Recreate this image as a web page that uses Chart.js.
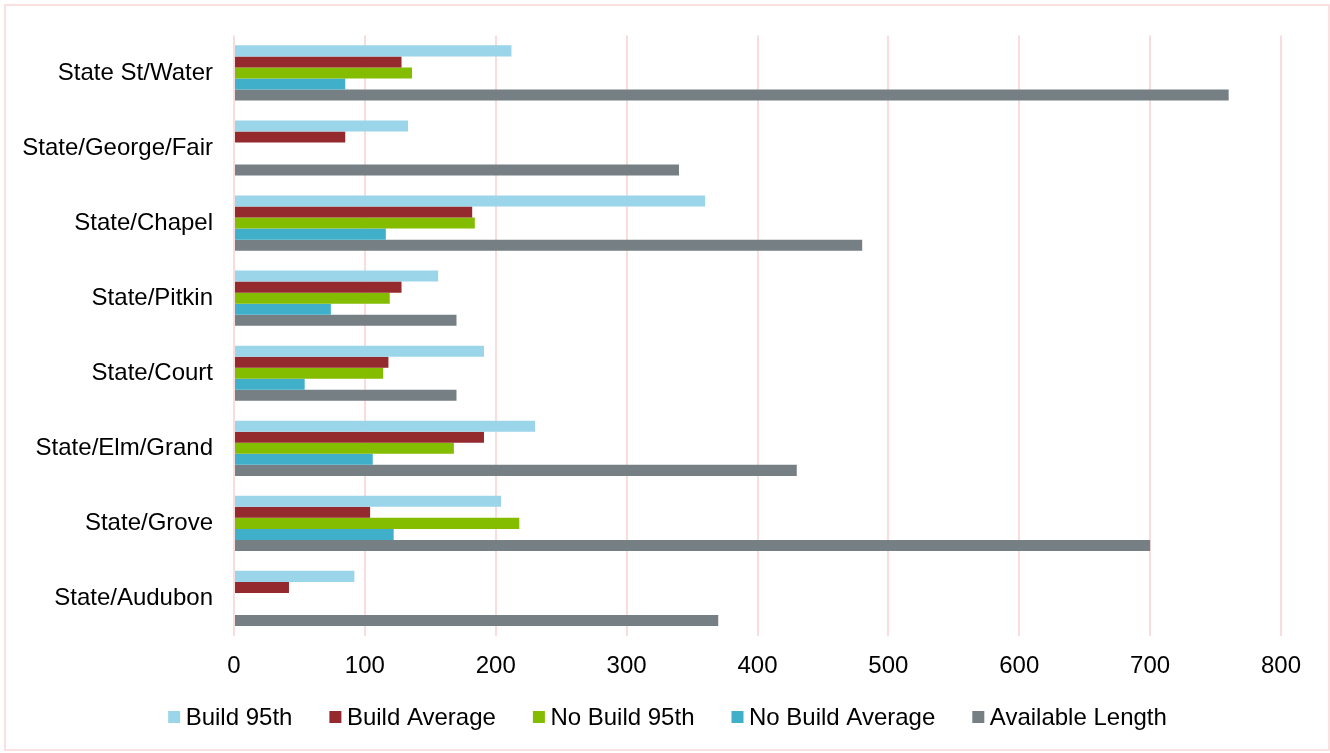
<!DOCTYPE html>
<html>
<head>
<meta charset="utf-8">
<title>Queue Length by Intersection</title>
<script src="https://cdn.jsdelivr.net/npm/chart.js@4.4.1/dist/chart.umd.min.js"></script>
<style>
  html, body { margin: 0; padding: 0; background: #ffffff; }
  #wrap { width: 1330px; height: 753px; }
</style>
</head>
<body>
<div id="wrap"><canvas id="chart" width="1330" height="753"></canvas></div>
<script>
// Intersections, top to bottom
const categories = [
  'State St/Water',
  'State/George/Fair',
  'State/Chapel',
  'State/Pitkin',
  'State/Court',
  'State/Elm/Grand',
  'State/Grove',
  'State/Audubon'
];

// Queue lengths per intersection (null = not reported)
const build95th       = [212, 133, 360, 156, 191, 230, 204, 92];
const buildAverage    = [128,  85, 182, 128, 118, 191, 104, 42];
const noBuild95th     = [136, null, 184, 119, 114, 168, 218, null];
const noBuildAverage  = [ 85, null, 116,  74,  54, 106, 122, null];
const availableLength = [760, 340, 480, 170, 170, 430, 700, 370];

// Value axis ticks
const xTicks = [0, 100, 200, 300, 400, 500, 600, 700, 800];

const seriesNames  = ['Build 95th', 'Build Average', 'No Build 95th', 'No Build Average', 'Available Length'];
const seriesColors = ['#9BD5E9', '#94292E', '#84BC00', '#3FAFCA', '#757F84'];
const seriesValues = [build95th, buildAverage, noBuild95th, noBuildAverage, availableLength];

const FONT_FAMILY = '"Liberation Sans", Arial, Helvetica, sans-serif';
const FONT_SIZE = 24;
const LEGEND_FONT_SIZE = 24;

// Light frame around the whole chart
const framePlugin = {
  id: 'frame',
  beforeDraw(chart) {
    const ctx = chart.ctx;
    ctx.save();
    ctx.fillStyle = '#ffffff';
    ctx.fillRect(0, 0, chart.width, chart.height);
    ctx.strokeStyle = '#F9D6D6';
    ctx.lineWidth = 1.5;
    ctx.strokeRect(5, 5, 1324, 745);
    ctx.restore();
  }
};

// Legend row drawn under the value axis with small square keys
const bottomLegend = {
  id: 'bottomLegend',
  afterDraw(chart) {
    const ctx = chart.ctx;
    const box = 12, gapText = 5.5, gapItem = 37;
    const centerX = 667.5, midY = 717;
    ctx.save();
    ctx.font = LEGEND_FONT_SIZE + 'px ' + FONT_FAMILY;
    ctx.textBaseline = 'middle';
    ctx.textAlign = 'left';
    const items = chart.data.datasets.map(ds => ({
      text: ds.label,
      color: ds.backgroundColor,
      w: ctx.measureText(ds.label).width
    }));
    let total = 0;
    items.forEach((it, i) => { total += box + gapText + it.w + (i ? gapItem : 0); });
    let x = centerX - total / 2;
    items.forEach(it => {
      ctx.fillStyle = it.color;
      ctx.fillRect(x, midY - box / 2, box, box);
      ctx.fillStyle = '#000000';
      ctx.fillText(it.text, x + box + gapText, midY + 1);
      x += box + gapText + it.w + gapItem;
    });
    ctx.restore();
  }
};

new Chart(document.getElementById('chart'), {
  type: 'bar',
  data: {
    labels: categories,
    datasets: seriesNames.map((name, i) => ({
      label: name,
      data: seriesValues[i],
      backgroundColor: seriesColors[i],
      borderWidth: 0,
      categoryPercentage: 0.735,
      barPercentage: 1.0
    }))
  },
  options: {
    indexAxis: 'y',
    responsive: false,
    animation: false,
    devicePixelRatio: 1,
    layout: { padding: { top: 34, right: 49, bottom: 0, left: 0 } },
    plugins: {
      legend: { display: false },
      tooltip: { enabled: false }
    },
    scales: {
      x: {
        type: 'linear',
        min: 0,
        max: 800,
        afterBuildTicks(scale) { scale.ticks = xTicks.map(v => ({ value: v })); },
        afterFit(scale) { scale.height = 753 - 636; },
        grid: { color: '#FADCDC', lineWidth: 2, drawTicks: false },
        border: { display: false },
        ticks: {
          padding: 16,
          color: '#000000',
          font: { family: FONT_FAMILY, size: FONT_SIZE }
        }
      },
      y: {
        afterFit(scale) { scale.width = 234; },
        grid: { display: false, drawTicks: false },
        border: { display: false },
        ticks: {
          padding: 21,
          color: '#000000',
          font: { family: FONT_FAMILY, size: FONT_SIZE }
        }
      }
    }
  },
  plugins: [framePlugin, bottomLegend]
});
</script>
</body>
</html>
